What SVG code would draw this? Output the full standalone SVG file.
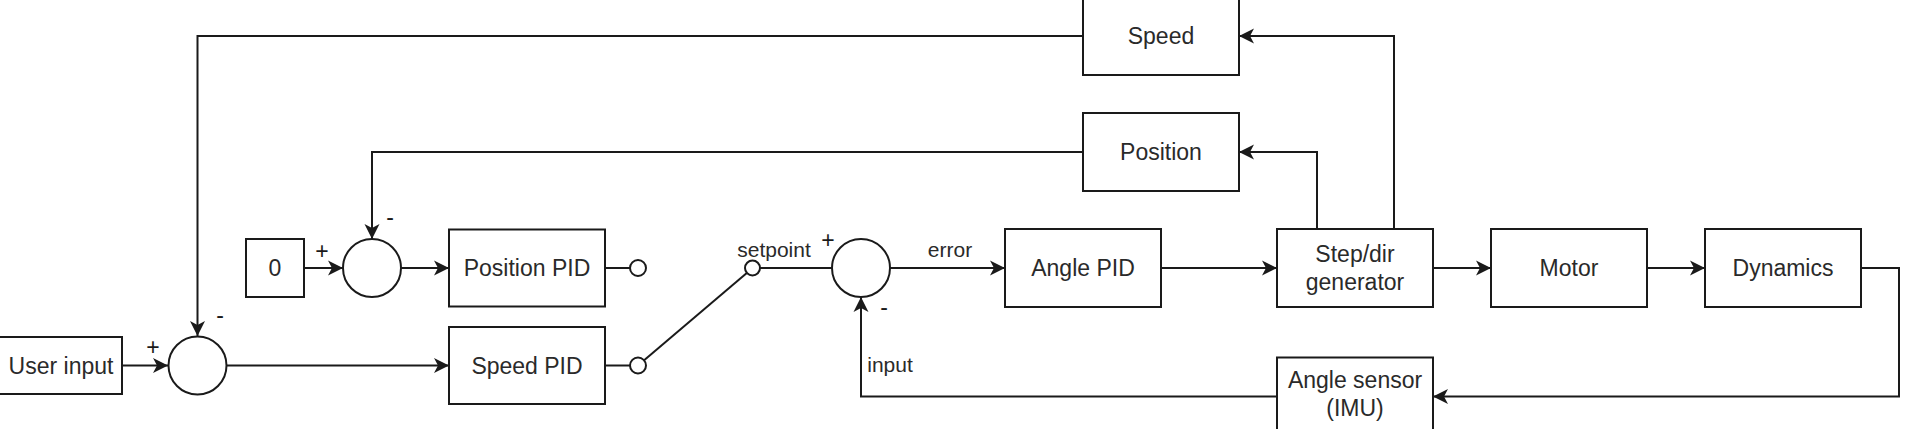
<svg xmlns="http://www.w3.org/2000/svg" width="1910" height="429" viewBox="0 0 1910 429">
<style>
.box{fill:#fff;stroke:#1a1a1a;stroke-width:2}
.sum{fill:#fff;stroke:#1a1a1a;stroke-width:2}
.pin{fill:#fff;stroke:#1a1a1a;stroke-width:2}
.t{font-family:"Liberation Sans",Arial,sans-serif;font-size:23px;fill:#2a2a2a;text-anchor:middle}
.lbl{font-family:"Liberation Sans",Arial,sans-serif;font-size:21px;fill:#2a2a2a;text-anchor:middle}
.sg{font-family:"Liberation Sans",Arial,sans-serif;font-size:23px;fill:#1a1a1a;text-anchor:middle}
.c{fill:none;stroke:#1a1a1a;stroke-width:2}
.a{marker-end:url(#arr)}
</style>
<defs>
<marker id="arr" viewBox="-16 -8 16 16" markerWidth="16" markerHeight="16" refX="0" refY="0" orient="auto" markerUnits="userSpaceOnUse">
<path d="M0,0 L-15,-7.5 L-11,0 L-15,7.5 Z" fill="#1a1a1a"/>
</marker>
</defs>
<rect width="1910" height="429" fill="#fff"/>
<g id="connectors">
<path class="c a" d="M122,365.5 H168"/>
<path class="c a" d="M227,365.5 H449"/>
<path class="c a" d="M304,268 H343"/>
<path class="c a" d="M401,268 H449"/>
<path class="c" d="M605,268 H630"/>
<path class="c" d="M605,365.5 H630"/>
<path class="c" d="M644.1,360.3 L746.8,272.9"/>
<path class="c" d="M760,268 H832"/>
<path class="c a" d="M890,268 H1005"/>
<path class="c a" d="M1161,268 H1277"/>
<path class="c a" d="M1433,268 H1491"/>
<path class="c a" d="M1647,268 H1705"/>
<path class="c a" d="M1861,268 H1899 V396.5 H1433"/>
<path class="c a" d="M1277,396.5 H861 V297"/>
<path class="c a" d="M1317,229 V152 H1239"/>
<path class="c a" d="M1394,229 V36 H1239"/>
<path class="c a" d="M1083,152 H372 V239"/>
<path class="c a" d="M1083,36 H197.5 V336"/>
</g>
<g id="user-input"><rect class="box" x="-1" y="337" width="123" height="57"/><text class="t" x="61" y="373.5">User input</text></g>
<g id="sum1"><circle class="sum" cx="197.5" cy="365.5" r="29"/><text class="sg" x="153" y="355">+</text><text class="sg" x="220" y="323">-</text></g>
<g id="zero"><rect class="box" x="246" y="239" width="58" height="58"/><text class="t" x="275" y="276">0</text></g>
<g id="sum2"><circle class="sum" cx="372" cy="268" r="29"/><text class="sg" x="322" y="259">+</text><text class="sg" x="390" y="225">-</text></g>
<g id="position-pid"><rect class="box" x="449" y="229.5" width="156" height="77"/><text class="t" x="527" y="276">Position PID</text></g>
<g id="speed-pid"><rect class="box" x="449" y="327" width="156" height="77"/><text class="t" x="527" y="373.5">Speed PID</text></g>
<g id="switch-pos"><circle class="pin" cx="638" cy="268" r="8"/></g>
<g id="switch-spd"><circle class="pin" cx="638" cy="365.5" r="8"/></g>
<g id="setpoint"><circle class="pin" cx="752.5" cy="268" r="7.5"/><text class="lbl" x="774" y="257">setpoint</text></g>
<g id="sum3"><circle class="sum" cx="861" cy="268" r="29"/><text class="sg" x="828" y="248">+</text><text class="sg" x="884" y="315">-</text></g>
<g id="error-label"><text class="lbl" x="950" y="257">error</text></g>
<g id="input-label"><text class="lbl" x="890" y="372">input</text></g>
<g id="angle-pid"><rect class="box" x="1005" y="229" width="156" height="78"/><text class="t" x="1083" y="276">Angle PID</text></g>
<g id="stepdir"><rect class="box" x="1277" y="229" width="156" height="78"/><text class="t" x="1355" y="262">Step/dir</text><text class="t" x="1355" y="290">generator</text></g>
<g id="motor"><rect class="box" x="1491" y="229" width="156" height="78"/><text class="t" x="1569" y="276">Motor</text></g>
<g id="dynamics"><rect class="box" x="1705" y="229" width="156" height="78"/><text class="t" x="1783" y="276">Dynamics</text></g>
<g id="speed"><rect class="box" x="1083" y="-3" width="156" height="78"/><text class="t" x="1161" y="44">Speed</text></g>
<g id="position"><rect class="box" x="1083" y="113" width="156" height="78"/><text class="t" x="1161" y="160">Position</text></g>
<g id="angle-sensor"><rect class="box" x="1277" y="357.5" width="156" height="78"/><text class="t" x="1355" y="388">Angle sensor</text><text class="t" x="1355" y="416">(IMU)</text></g>
</svg>
